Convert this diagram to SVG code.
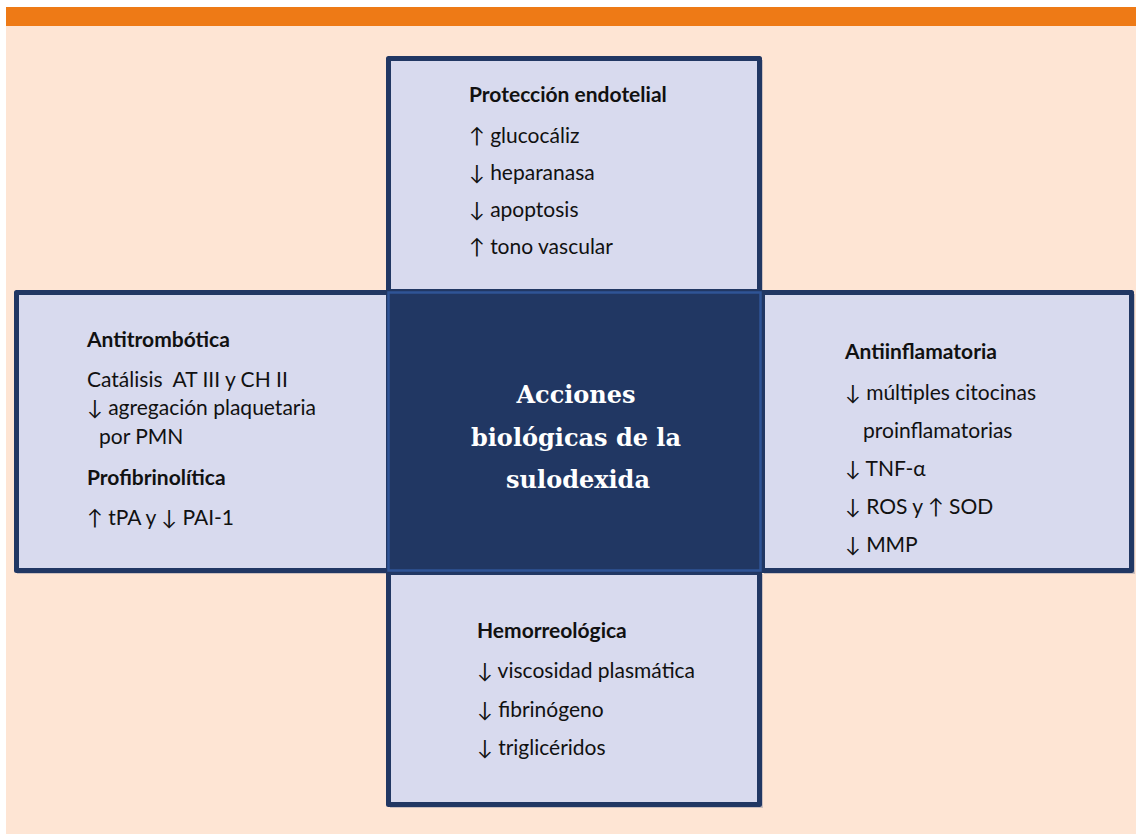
<svg xmlns="http://www.w3.org/2000/svg" width="1136" height="834" viewBox="0 0 1136 834">
<defs>
<style>
.box{fill:#D8DAEE;stroke:#213763;stroke-width:5;stroke-linejoin:round}
.sh{fill:#9a9aa8;opacity:0.5}
.t{font-family:Lato,"Open Sans",sans-serif;font-size:21px;fill:#111}
.h{font-family:Lato,"Open Sans",sans-serif;font-size:21px;font-weight:bold;fill:#111}
.c{font-family:"DejaVu Serif","Liberation Serif",serif;font-size:24px;font-weight:bold;fill:#fff;text-anchor:middle}
</style>
</defs>
<rect x="0" y="0" width="1136" height="834" fill="#ffffff"/>
<rect x="6" y="26" width="1130" height="808" fill="#FEE5D4"/>
<rect x="6" y="7" width="1130" height="19" fill="#EE7A16"/>

<g id="node-left">
<rect class="sh" x="17" y="294" width="373" height="280"/>
<rect class="box" x="16.5" y="292.5" width="372" height="278"/>
<text class="h" x="87" y="347">Antitrombótica</text>
<text class="t" x="87" y="387" xml:space="preserve">Catálisis  AT III y CH II</text>
<text class="t" x="87" y="415">↓ agregación plaquetaria</text>
<text class="t" x="99" y="444">por PMN</text>
<text class="h" x="87" y="485">Profibrinolítica</text>
<text class="t" x="87" y="525">↑ tPA y ↓ PAI-1</text>
</g>

<g id="node-right">
<rect class="sh" x="764" y="294" width="371" height="280"/>
<rect class="box" x="762.5" y="292.5" width="369" height="278"/>
<text class="h" x="845" y="359">Antiinflamatoria</text>
<text class="t" x="845" y="400">↓ múltiples citocinas</text>
<text class="t" x="863" y="438">proinflamatorias</text>
<text class="t" x="845" y="476">↓ TNF-α</text>
<text class="t" x="845" y="514">↓ ROS y ↑ SOD</text>
<text class="t" x="845" y="552">↓ MMP</text>
</g>

<g id="node-top">
<rect class="sh" x="390" y="60" width="373" height="233"/>
<rect class="box" x="388.5" y="58.5" width="371" height="233"/>
<text class="h" x="469" y="102">Protección endotelial</text>
<text class="t" x="469" y="143">↑ glucocáliz</text>
<text class="t" x="469" y="180">↓ heparanasa</text>
<text class="t" x="469" y="217">↓ apoptosis</text>
<text class="t" x="469" y="254">↑ tono vascular</text>
</g>

<g id="node-bottom">
<rect class="sh" x="390" y="574" width="373" height="234"/>
<rect class="box" x="388.5" y="572.5" width="371" height="232"/>
<text class="h" x="477" y="638">Hemorreológica</text>
<text class="t" x="477" y="678">↓ viscosidad plasmática</text>
<text class="t" x="477" y="717">↓ fibrinógeno</text>
<text class="t" x="477" y="755">↓ triglicéridos</text>
</g>

<g id="node-center">
<rect x="386" y="290" width="377" height="283" fill="#213763"/>
<rect x="388.5" y="292.5" width="372" height="278" fill="#213763" stroke="#2F5496" stroke-width="2.5"/>
<text class="c" x="576" y="403">Acciones</text>
<text class="c" x="576" y="446">biológicas de la</text>
<text class="c" x="578" y="488">sulodexida</text>
</g>

<g id="connectors"></g>
</svg>
